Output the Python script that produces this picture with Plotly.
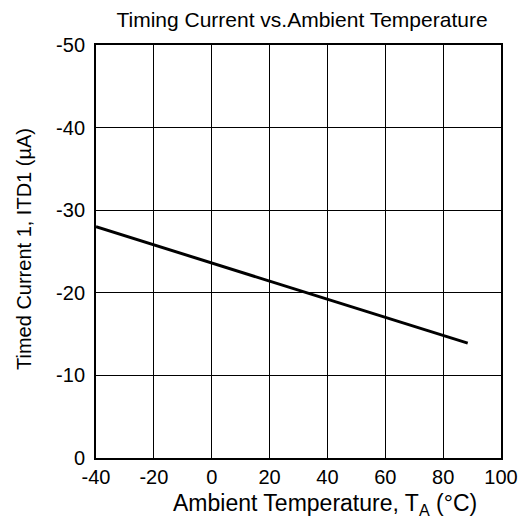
import plotly.graph_objects as go

temps = [-40, 88.5]
current = [-28.0, -13.9]
x_ticks = [-40, -20, 0, 20, 40, 60, 80, 100]
y_ticks = [-50, -40, -30, -20, -10, 0]

# page offset from default body margin
OFF = 8
W, H = 531 - OFF, 519 - OFF
L, R, T, B = 96 - OFF, 30, 45 - OFF, 61
PW, PH = W - L - R, H - T - B
PX0, PY0 = 96, 45  # plot area top-left in page pixels


def px_to_paper_x(px):
    return (px - PX0) / PW


def px_to_paper_y(py):
    return 1 - (py - PY0) / PH


fig = go.Figure()
fig.add_trace(go.Scatter(x=temps, y=current, mode="lines",
                         line=dict(color="black", width=3), showlegend=False,
                         cliponaxis=False))

font = "Liberation Sans, Arial, sans-serif"
fig.update_layout(
    width=W, height=H,
    margin=dict(l=L, r=R, t=T, b=B),
    paper_bgcolor="white", plot_bgcolor="white",
    font=dict(family=font, size=20, color="black"),
    title=dict(text="Timing Current vs.Ambient Temperature",
               x=(302 - OFF) / W, xanchor="center",
               y=1 - (20 - OFF) / H, yanchor="middle", font=dict(size=21)),
    xaxis=dict(range=[-40, 100], tickvals=x_ticks, ticktext=[str(v) for v in x_ticks],
               showgrid=True, gridcolor="black", gridwidth=1,
               showline=True, linecolor="black", linewidth=2, mirror=True,
               zeroline=False, ticks="", ticklabelstandoff=0, fixedrange=True),
    yaxis=dict(range=[0, -50], tickvals=y_ticks, ticktext=[str(v) for v in y_ticks],
               showgrid=True, gridcolor="black", gridwidth=1,
               showline=True, linecolor="black", linewidth=2, mirror=True,
               zeroline=False, ticks="", ticklabelstandoff=5, fixedrange=True),
    annotations=[
        dict(text="Ambient Temperature, T<sub>A</sub> (°C)", xref="paper", yref="paper",
             x=px_to_paper_x(325), y=px_to_paper_y(504),
             xanchor="center", yanchor="middle", showarrow=False, font=dict(size=23)),
        dict(text="Timed Current 1, ITD1 (µA)", xref="paper", yref="paper",
             x=px_to_paper_x(24), y=px_to_paper_y(249), textangle=-90,
             xanchor="center", yanchor="middle", showarrow=False, font=dict(size=20)),
    ],
)
fig.write_html("out.html")
